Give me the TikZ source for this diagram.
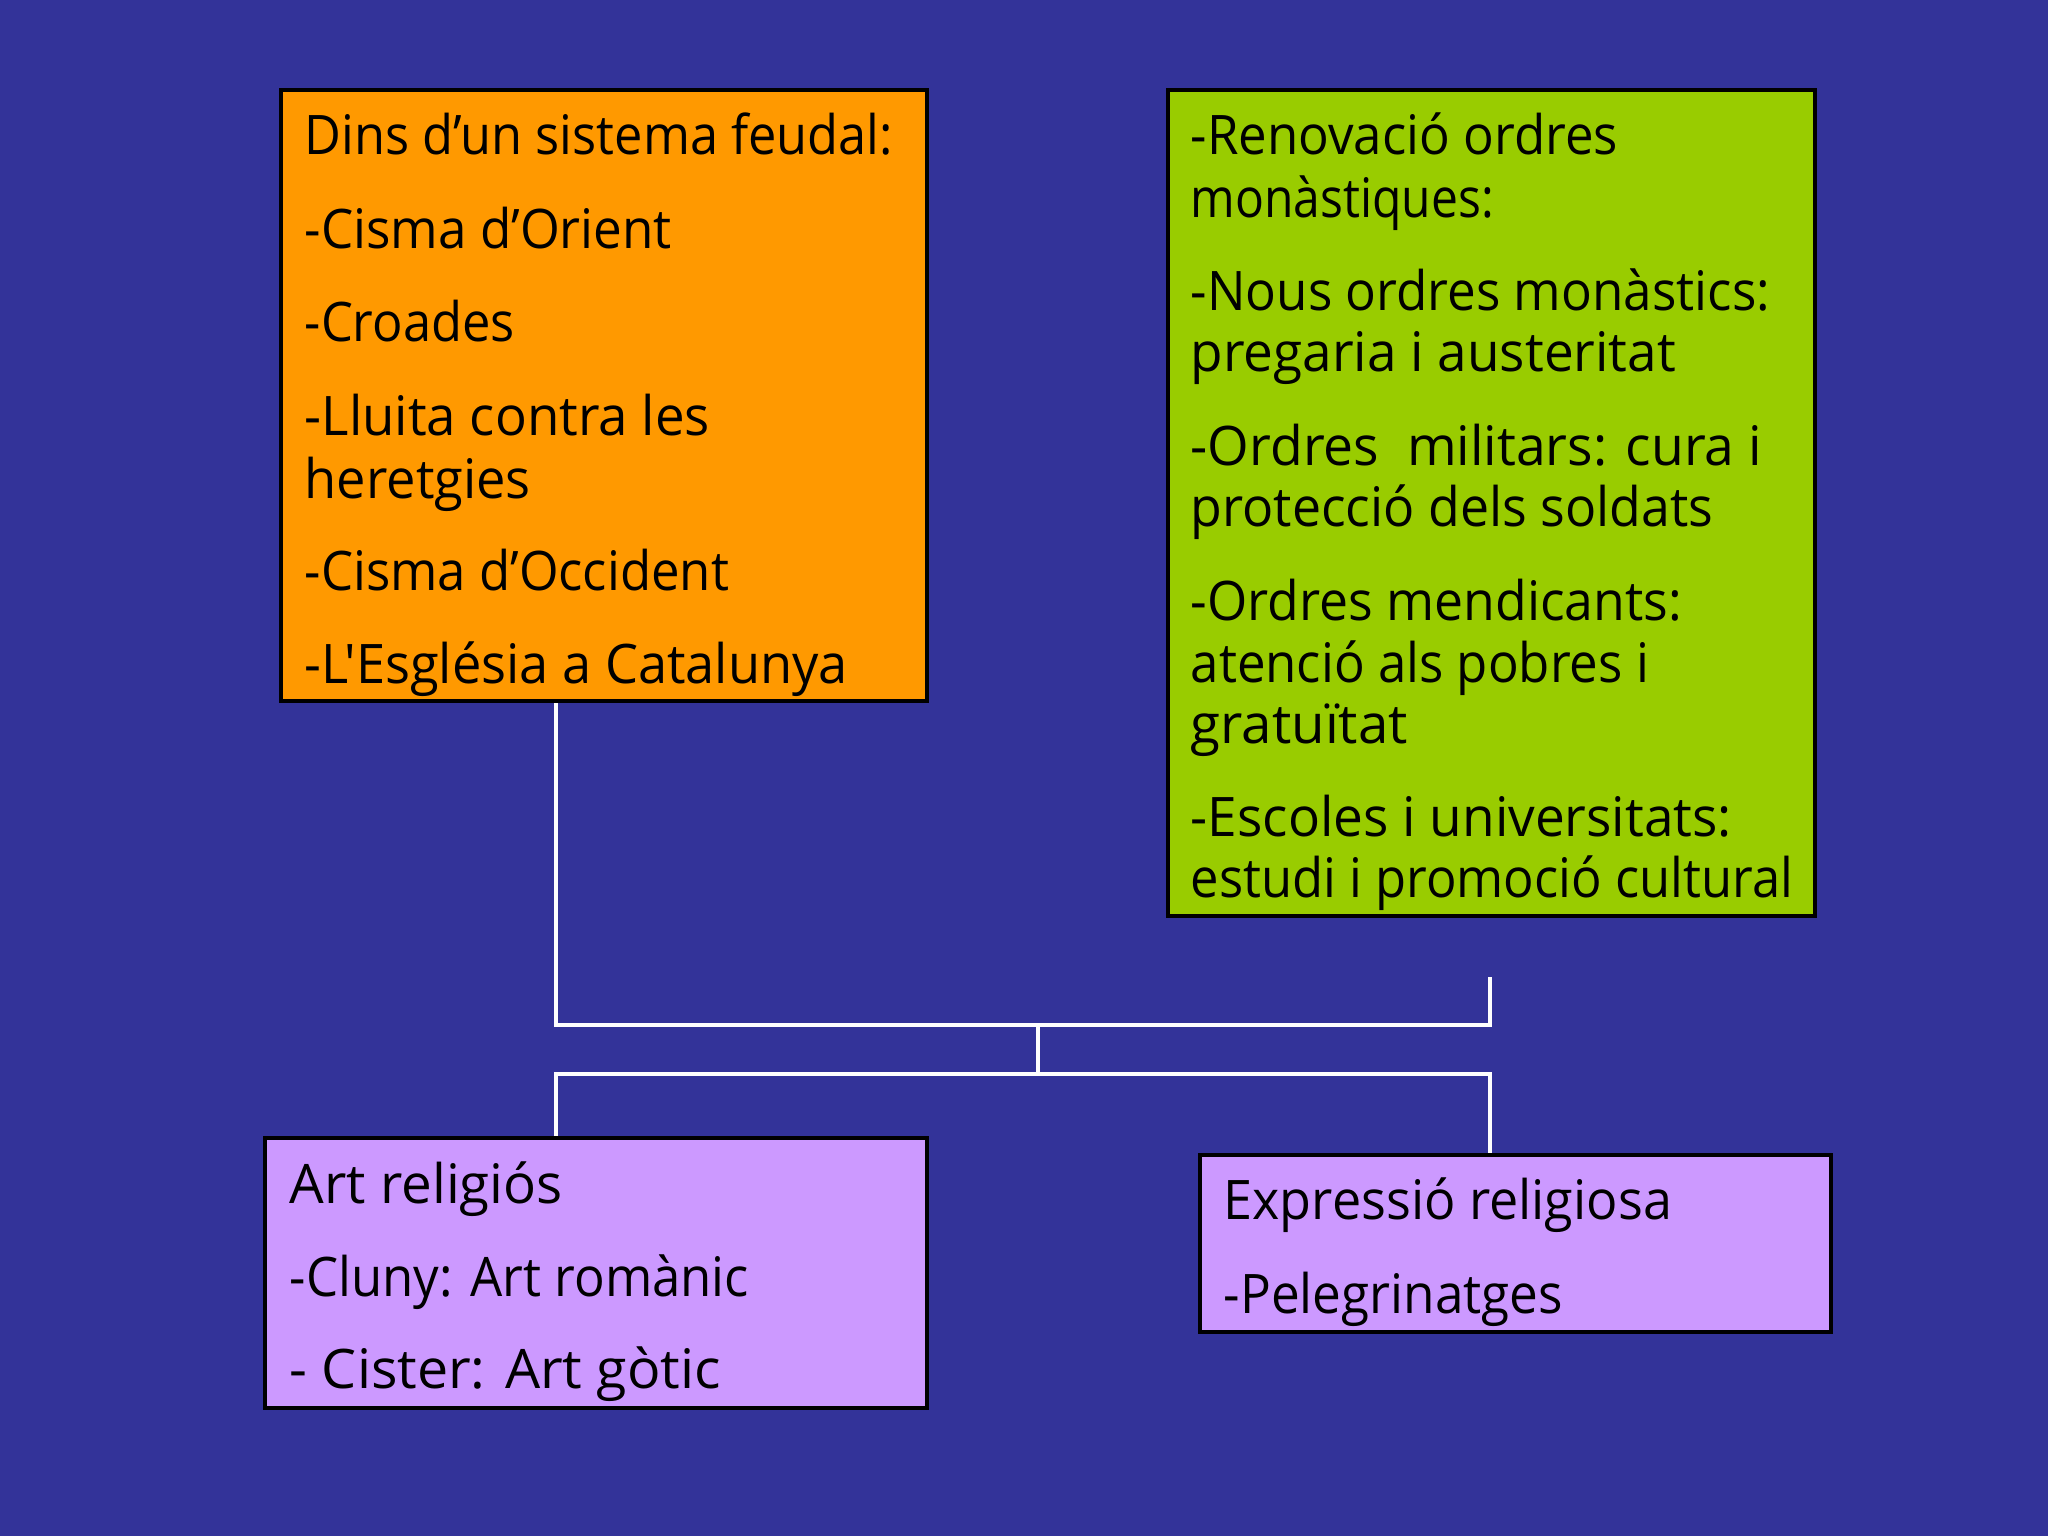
\documentclass[tikz,border=0pt]{standalone}
\usepackage{fontspec}
\setmainfont{Open Sans}[Ligatures=TeXOff]
\usetikzlibrary{fit}
\definecolor{bg}{HTML}{333399}
\definecolor{org}{HTML}{FF9900}
\definecolor{grn}{HTML}{99CC00}
\definecolor{lil}{HTML}{CC99FF}
\newcommand\fitline[2]{\resizebox{#1}{\height}{#2}}
\tikzset{
 box/.style={draw=black, line width=1.4pt, inner sep=0pt},
 conn/.style={draw=white, line width=1.3pt},
 txt/.style={anchor=base west, inner sep=0pt, font=\fontsize{15.5}{18}\selectfont, text=black},
}
\begin{document}
\begin{tikzpicture}[x=0.01cm,y=-0.01cm]
\fill[bg] (0,0) rectangle (2048,1536);
\useasboundingbox (0,0) rectangle (2048,1536);
% boxes
\node[box, fill=org, fit={(281,90) (927,701)}] (feudal) {};
\node[box, fill=grn, fit={(1168,90) (1815,916)}] (ordres) {};
\node[box, fill=lil, fit={(265,1138) (927,1408)}] (art) {};
\node[box, fill=lil, fit={(1200,1155) (1831,1332)}] (expr) {};
% connector points
\coordinate (jl) at (556,1025);
\coordinate (jr) at (1490,1025);
\coordinate (stub) at (1490,977);
\coordinate (mt) at (1038,1025);
\coordinate (mb) at (1038,1074);
\coordinate (bl) at (556,1074);
\coordinate (br) at (1490,1074);
\draw[conn] (feudal.south -| jl) -- (jl) -- (jr) -- (stub);
\draw[conn] (mt) -- (mb);
\draw[conn] (art.north -| bl) -- (bl) -- (br) -- (expr.north -| br);
% orange text
\node[txt] (f1) at (304,154) {\fitline{5.88cm}{Dins d’un sistema feudal:}};
\node[txt] (f2) at (304,248) {\fitline{3.67cm}{-Cisma d’Orient}};
\node[txt] (f3) at (304,341) {\fitline{2.10cm}{-Croades}};
\node[txt] (f4) at (304,435) {\fitline{4.05cm}{-Lluita contra les}};
\node[txt] (f5) at (304,498) {\fitline{2.26cm}{heretgies}};
\node[txt] (f6) at (304,590) {\fitline{4.24cm}{-Cisma d’Occident}};
\node[txt] (f7) at (304,683) {\fitline{5.43cm}{-L'Església a Catalunya}};
% green text
\node[txt] (g1) at (1190,154) {\fitline{4.27cm}{-Renovació ordres}};
\node[txt] (g2) at (1190,217) {\fitline{3.03cm}{monàstiques:}};
\node[txt] (g3) at (1190,310) {\fitline{5.79cm}{-Nous ordres monàstics:}};
\node[txt] (g4) at (1190,371) {\fitline{4.85cm}{pregaria i austeritat}};
\node[txt] (g5) at (1190,465) {\fitline{5.71cm}{-Ordres\ \ militars: cura i}};
\node[txt] (g6) at (1190,526) {\fitline{5.22cm}{protecció dels soldats}};
\node[txt] (g7) at (1190,620) {\fitline{4.91cm}{-Ordres mendicants:}};
\node[txt] (g8) at (1190,682) {\fitline{4.58cm}{atenció als pobres i}};
\node[txt] (g9) at (1190,743) {\fitline{2.17cm}{gratuïtat}};
\node[txt] (g10) at (1190,836) {\fitline{5.41cm}{-Escoles i universitats:}};
\node[txt] (g11) at (1190,897) {\fitline{6.02cm}{estudi i promoció cultural}};
% lilac text
\node[txt] (a1) at (289,1203) {\fitline{2.73cm}{Art religiós}};
\node[txt] (a2) at (289,1296) {\fitline{4.59cm}{-Cluny: Art romànic}};
\node[txt] (a3) at (289,1388) {\fitline{4.31cm}{- Cister: Art gòtic}};
\node[txt] (e1) at (1223,1219) {\fitline{4.48cm}{Expressió religiosa}};
\node[txt] (e2) at (1223,1313) {\fitline{3.39cm}{-Pelegrinatges}};
\end{tikzpicture}
\end{document}
